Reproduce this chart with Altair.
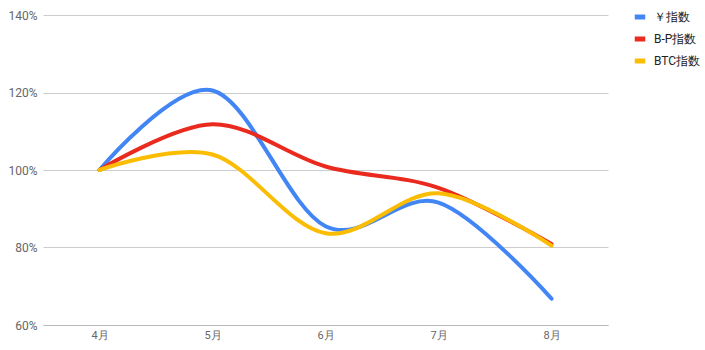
import altair as alt
import pandas as pd

months = ["4月", "5月", "6月", "7月", "8月"]
series_names = ["￥指数", "B-P指数", "BTC指数"]
yen_index = [1.00, 1.205, 0.855, 0.916, 0.668]
bp_index = [1.00, 1.118, 1.009, 0.954, 0.809]
btc_index = [1.00, 1.040, 0.837, 0.940, 0.805]
colors = ["#4285F4", "#EA2A1F", "#FBBC04"]

rows = []
for name, vals in zip(series_names, [yen_index, bp_index, btc_index]):
    for i, (m, v) in enumerate(zip(months, vals)):
        rows.append({"month": m, "value": v, "series": name,
                     "sidx": series_names.index(name), "midx": i})
df = pd.DataFrame(rows)

chart = alt.Chart(df).mark_line(
    interpolate="cardinal", strokeWidth=4, strokeCap="round"
).encode(
    x=alt.X("month:N", sort=months,
            scale=alt.Scale(type="point", padding=0.5),
            axis=alt.Axis(title=None, labelAngle=0, ticks=False, domain=True,
                          domainColor="#bbbbbb", labelFont="Roboto", labelFontSize=11,
                          labelColor="#666666", labelPadding=4)),
    y=alt.Y("value:Q",
            scale=alt.Scale(domain=[0.6, 1.4], nice=False, zero=False),
            axis=alt.Axis(title=None, format=".0%", values=[0.6, 0.8, 1.0, 1.2, 1.4],
                          ticks=False, domain=False, gridColor="#cccccc",
                          labelFont="Roboto", labelFontSize=12, labelColor="#666666",
                          labelPadding=6)),
    color=alt.Color("series:N", sort=series_names,
                    scale=alt.Scale(domain=series_names, range=colors),
                    legend=alt.Legend(title=None, orient="none", legendX=589, legendY=-6,
                                      symbolType="stroke", symbolStrokeWidth=5,
                                      symbolSize=110, labelFont="Roboto",
                                      labelFontSize=12, labelColor="#222222",
                                      rowPadding=2, labelOffset=6)),
    order=alt.Order("midx:Q"),
    detail="series:N",
).properties(
    width=565, height=310,
    autosize=alt.AutoSizeParams(type="none"),
    padding={"left": 43, "top": 15, "right": 97, "bottom": 25},
).configure_view(stroke=None)

chart.save("out.html", embed_options={"renderer": "svg", "actions": False})
